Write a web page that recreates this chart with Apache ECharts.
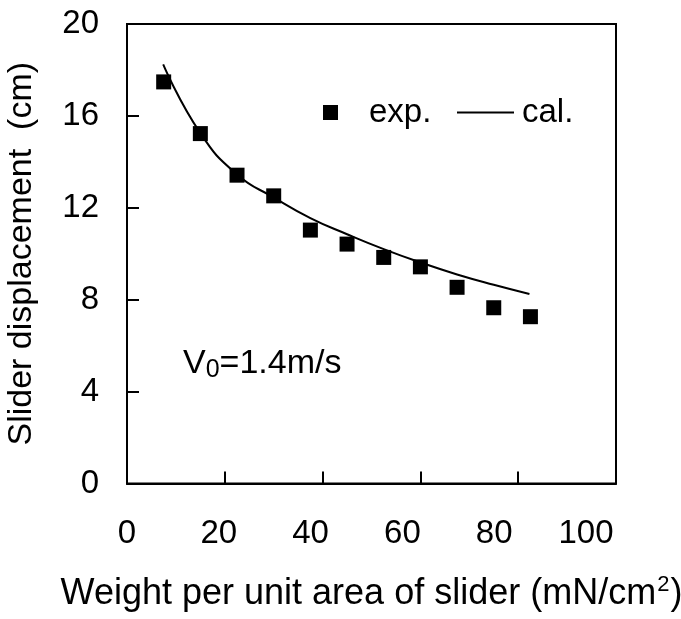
<!DOCTYPE html>
<html>
<head>
<meta charset="utf-8">
<script src="https://cdn.jsdelivr.net/npm/echarts@6/dist/echarts.min.js"></script>
<style>html,body{margin:0;padding:0;background:#fff}#c{width:681px;height:619px}</style>
</head>
<body>
<div id="c"></div>
<script>
const expX = [7.5, 15, 22.5, 30, 37.5, 45, 52.5, 60, 67.5, 75, 82.5];
const expY = [17.48, 15.23, 13.42, 12.52, 11.03, 10.42, 9.84, 9.43, 8.54, 7.65, 7.26];
const calX = [7.4, 15, 22.5, 30, 37.5, 45, 52.5, 60, 67.5, 75, 82.3];
const calY = [18.24, 15.25, 13.45, 12.45, 11.55, 10.85, 10.2, 9.62, 9.1, 8.65, 8.25];
const xTicks = [0, 20, 40, 60, 80, 100];
const yTicks = [0, 4, 8, 12, 16, 20];
const FONT = '"Liberation Sans", Arial, sans-serif';

// the reference's x tick labels sit slightly left of their ticks, progressively
const xRich = {};
xTicks.forEach(v => {
  const d = v * 0.3;
  xRich['t' + v] = {fontFamily: FONT, fontSize: 33, color: '#000', padding: [0, 2 * d, 0, 0]};
});

const chart = echarts.init(document.getElementById('c'), null, {renderer: 'canvas'});
chart.setOption({
  animation: false,
  backgroundColor: '#fff',
  grid: {left: 127, top: 24, right: 65, bottom: 135.5, show: true, borderColor: '#000', borderWidth: 2,
         backgroundColor: 'transparent', containLabel: false, outerBoundsMode: 'none'},
  legend: [
    {data: [{name: 'exp.', icon: 'rect'}], left: 323, top: 96, padding: 0, itemWidth: 15, itemHeight: 15,
     textStyle: {fontFamily: FONT, fontSize: 33, color: '#000', padding: [0, 0, 0, 26]}},
    {data: [{name: 'cal.', icon: 'rect'}], left: 457, top: 96, padding: 0, itemWidth: 57, itemHeight: 2,
     itemStyle: {color: '#000'},
     textStyle: {fontFamily: FONT, fontSize: 33, color: '#000', padding: [0, 0, 0, 3]}}
  ],
  xAxis: {
    type: 'value', min: xTicks[0], max: xTicks[xTicks.length - 1], interval: 20,
    name: '{a|Weight per unit area of slider (mN/cm}{s|2}{a|)}',
    nameLocation: 'middle', nameGap: 90,
    nameTextStyle: {fontFamily: FONT, color: '#000',
      rich: {a: {fontFamily: FONT, fontSize: 36, color: '#000', lineHeight: 42},
             s: {fontFamily: FONT, fontSize: 22, color: '#000', verticalAlign: 'top', lineHeight: 22, padding: [0, 1, 0, 1]}}},
    axisLine: {show: true, onZero: false, lineStyle: {color: '#000', width: 2}},
    axisTick: {show: true, inside: true, length: 12, lineStyle: {color: '#000', width: 2}},
    axisLabel: {fontFamily: FONT, fontSize: 33, color: '#000', margin: 34,
      formatter: v => '{t' + v + '|' + v + '}', rich: xRich},
    splitLine: {show: false}
  },
  yAxis: {
    type: 'value', min: yTicks[0], max: yTicks[yTicks.length - 1], interval: 4,
    name: 'Slider displacement  (cm)',
    nameLocation: 'middle', nameGap: 88,
    nameTextStyle: {fontFamily: FONT, fontSize: 34, color: '#000'},
    axisLine: {show: true, onZero: false, lineStyle: {color: '#000', width: 2}},
    axisTick: {show: true, inside: true, length: 12, lineStyle: {color: '#000', width: 2}},
    axisLabel: {fontFamily: FONT, fontSize: 33, color: '#000', margin: 28},
    splitLine: {show: false}
  },
  graphic: [{
    type: 'text', left: 183, top: 344,
    style: {
      text: '{v|V}{s|0}{v|=1.4m/s}',
      rich: {
        v: {fontFamily: FONT, fontSize: 34, fill: '#000', lineHeight: 40},
        s: {fontFamily: FONT, fontSize: 25, fill: '#000', lineHeight: 40, padding: [14, 0, 0, 0]}
      }
    }
  }],
  series: [
    {name: 'exp.', type: 'scatter', symbol: 'rect', symbolSize: 15,
     itemStyle: {color: '#000', opacity: 1}, data: expX.map((x, i) => [x, expY[i]]), z: 3},
    {name: 'cal.', type: 'line', smooth: true, symbol: 'none', showSymbol: false,
     lineStyle: {color: '#000', width: 2}, itemStyle: {color: '#000'},
     data: calX.map((x, i) => [x, calY[i]]), z: 2}
  ]
});
</script>
</body>
</html>
